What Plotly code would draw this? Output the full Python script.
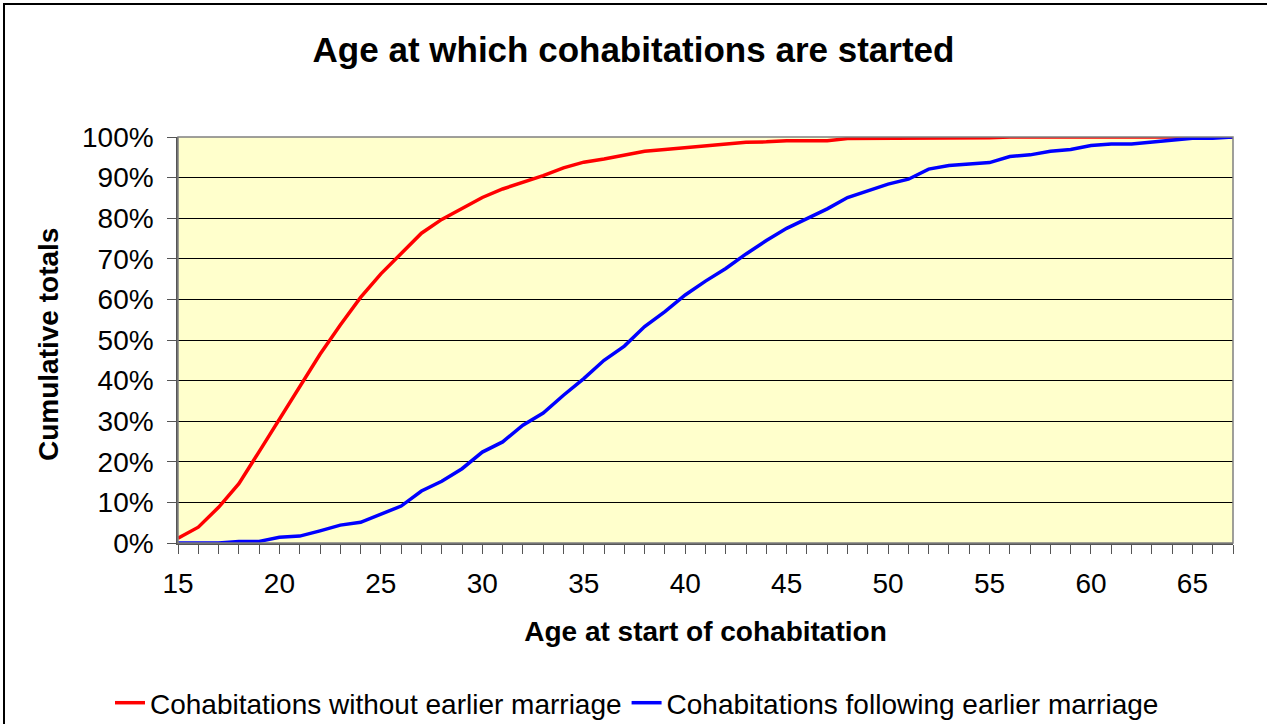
import plotly.graph_objects as go

ages = list(range(15, 68))

# cumulative share (%)
without_marriage = [
    1.2, 3.9, 8.8, 14.6, 22.5, 30.5, 38.4, 46.5, 53.7, 60.5,
    66.3, 71.4, 76.3, 79.7, 82.4, 85.1, 87.2, 88.8, 90.5, 92.4,
    93.8, 94.6, 95.6, 96.5, 96.9, 97.3, 97.8, 98.3, 98.7, 98.8,
    99.1, 99.1, 99.1, 99.6, 99.6, 99.6, 99.6, 99.6, 99.6, 99.6,
    99.8, 100, 100, 100, 100, 100, 100, 100, 100, 100,
    100, 100, 100,
]
following_marriage = [
    0, 0, 0, 0.4, 0.4, 1.4, 1.7, 3.0, 4.4, 5.1,
    7.0, 9.1, 12.8, 15.2, 18.3, 22.4, 24.9, 29.0, 32.0, 36.4,
    40.5, 45.0, 48.5, 53.3, 57.0, 61.1, 64.5, 67.6, 71.2, 74.5,
    77.5, 80.0, 82.3, 85.1, 86.8, 88.4, 89.6, 92.1, 93.0, 93.3,
    93.7, 95.2, 95.6, 96.5, 96.9, 97.9, 98.3, 98.3, 98.8, 99.2,
    99.7, 99.7, 100,
]

FONT = "Arial, Liberation Sans, sans-serif"

fig = go.Figure()
fig.add_trace(go.Scatter(
    x=ages, y=[v / 100 for v in without_marriage], mode="lines",
    name="Cohabitations without earlier marriage",
    line=dict(color="#FF0000", width=3.5),
))
fig.add_trace(go.Scatter(
    x=ages, y=[v / 100 for v in following_marriage], mode="lines",
    name="Cohabitations following earlier marriage",
    line=dict(color="#0000FF", width=3.5),
))

W, H = 1267, 724
L, R, T, B = 178, 34, 137, 181
pw, ph = W - L - R, H - T - B

fig.update_layout(
    width=W, height=H,
    margin=dict(l=L, r=R, t=T, b=B),
    paper_bgcolor="white",
    plot_bgcolor="#FFFFCC",
    font=dict(family=FONT, size=28, color="black"),
    title=dict(text="<b>Age at which cohabitations are started</b>",
               x=0.5, xanchor="center", yref="container", y=1 - 50 / H,
               yanchor="middle", font=dict(size=35)),
    legend=dict(orientation="h", yref="container", y=1 - 703 / H,
                yanchor="middle", x=(637 - L) / pw, xanchor="center",
                font=dict(size=28), itemwidth=30, tracegroupgap=0),
    showlegend=True,
)

fig.update_xaxes(
    range=[15, 67], tickmode="linear", tick0=15, dtick=5,
    ticks="outside", ticklen=9, tickcolor="#555", showgrid=False,
    showline=True, linecolor="#555", linewidth=1.5, zeroline=False,
    minor=dict(dtick=1, ticks="outside", ticklen=9, tickcolor="#555", showgrid=False),
    tickfont=dict(size=28), ticklabelstandoff=6,
    title=dict(text="<b>Age at start of cohabitation</b>", font=dict(size=28), standoff=23),
)
fig.update_yaxes(
    range=[0, 1], tickmode="linear", tick0=0, dtick=0.1, tickformat=".0%",
    ticks="outside", ticklen=9, tickcolor="#555",
    showgrid=True, gridcolor="#000000", gridwidth=1,
    showline=True, linecolor="#555", linewidth=1.5, zeroline=False,
    tickfont=dict(size=28), ticklabelstandoff=8,
)

# y-axis title placed as rotated annotation
fig.add_annotation(text="<b>Cumulative totals</b>", textangle=-90,
                   xref="paper", yref="paper", x=(48 - L) / pw, y=(H - B - 345) / ph,
                   xanchor="center", yanchor="middle", showarrow=False,
                   font=dict(size=28))

# plot-area border (grey top/right) and outer chart frame
fig.add_shape(type="rect", xref="paper", yref="paper", x0=0, y0=0, x1=1, y1=1,
              line=dict(color="#808080", width=1.5), layer="above")
fig.add_shape(type="rect", xref="paper", yref="paper",
              x0=(4 - L) / pw, x1=(W + 10 - L) / pw,
              y0=(-B - 10) / ph, y1=(H - B - 4) / ph,
              line=dict(color="black", width=2))

fig.write_html("out.html", config={"displayModeBar": False},
               post_script="document.body.style.margin='0';")
